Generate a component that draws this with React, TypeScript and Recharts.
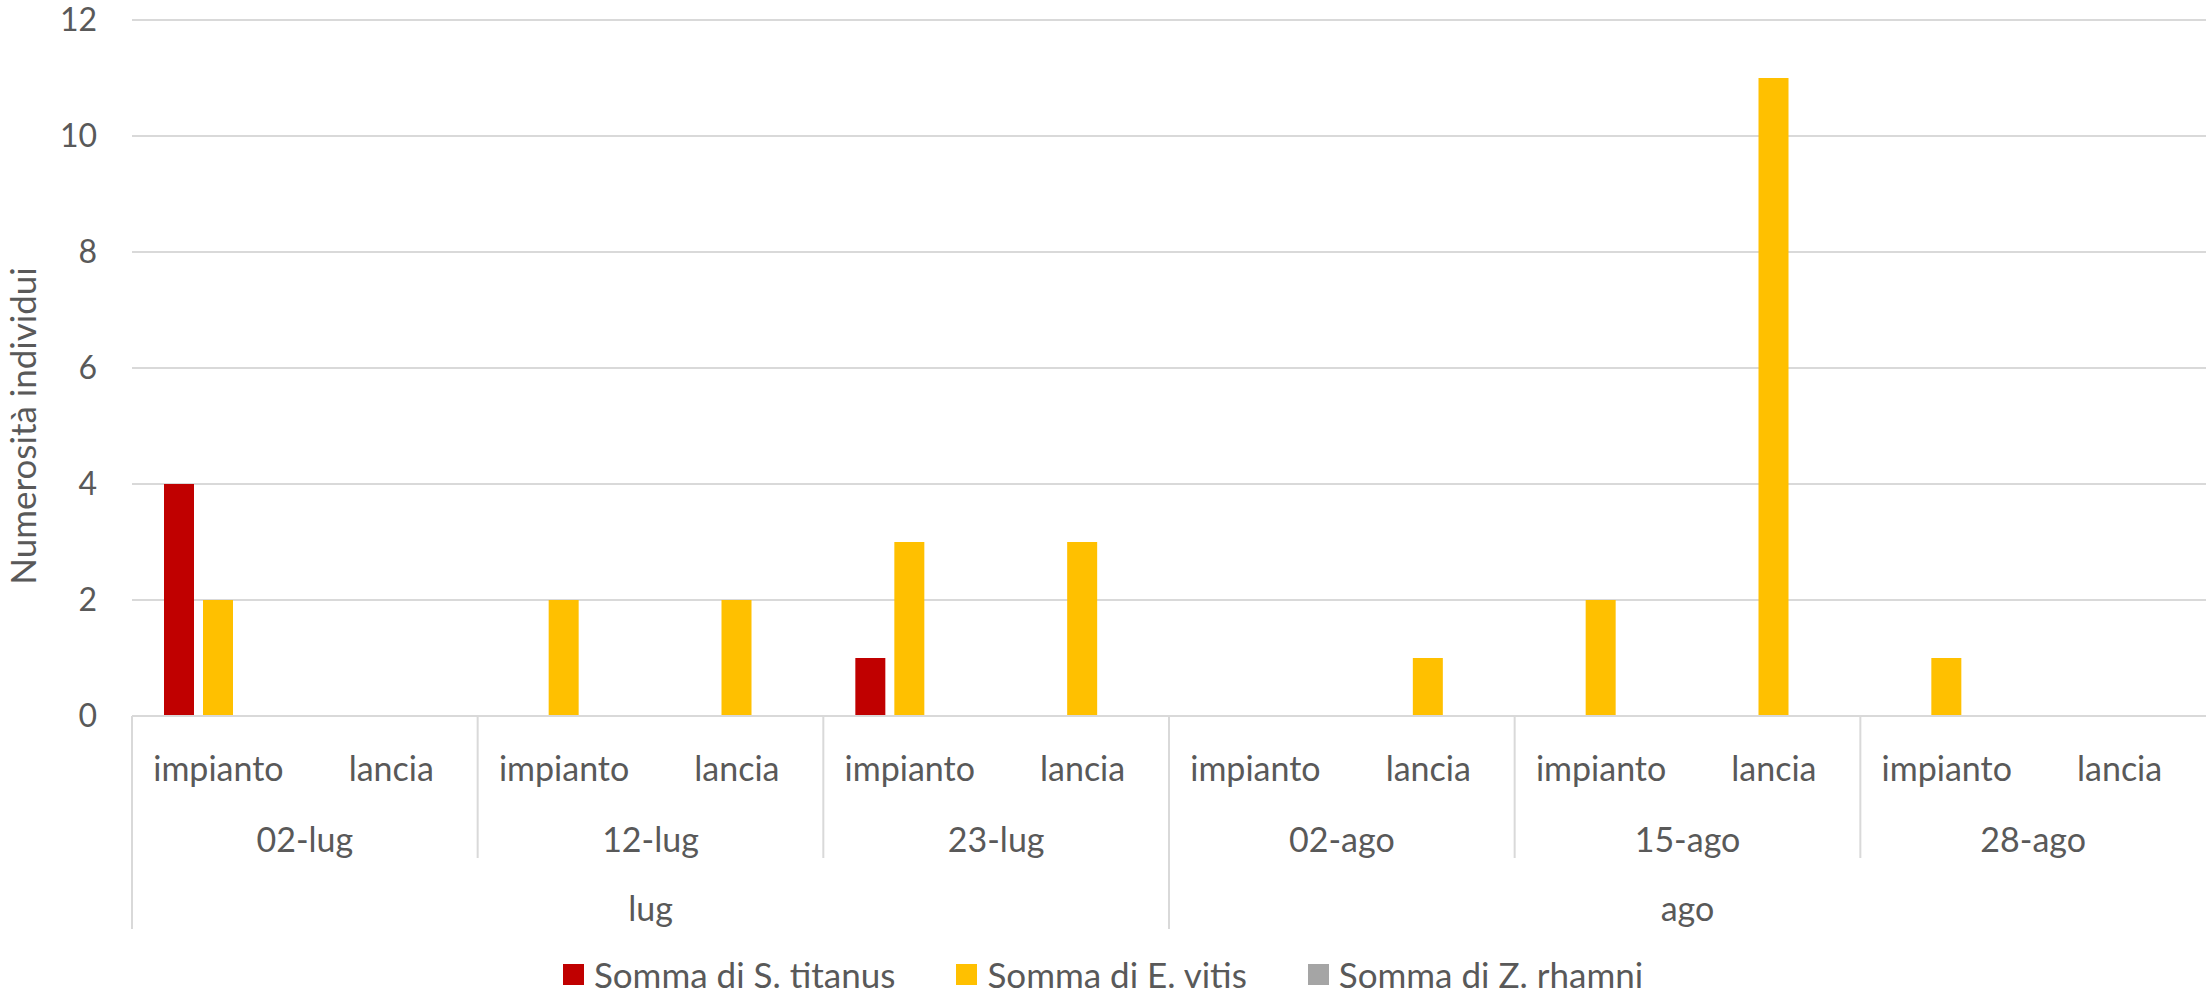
import React from "react";
import { BarChart, Bar, XAxis, YAxis, CartesianGrid, Legend } from "recharts";

const dates = ["02-lug", "12-lug", "23-lug", "02-ago", "15-ago", "28-ago"];
const dateMonths = ["lug", "lug", "lug", "ago", "ago", "ago"];
const tipi = ["impianto", "lancia"];

// one value per (date, tipo), in order
const titanus = [4, 0, 0, 0, 1, 0, 0, 0, 0, 0, 0, 0];
const vitis = [2, 0, 2, 2, 3, 3, 0, 1, 2, 11, 1, 0];
const rhamni = [0, 0, 0, 0, 0, 0, 0, 0, 0, 0, 0, 0];

const yTicks = [0, 2, 4, 6, 8, 10, 12];

const SERIES = [
  { key: "titanus", name: "Somma di S. titanus", color: "#C00000" },
  { key: "vitis", name: "Somma di E. vitis", color: "#FFC000" },
  { key: "rhamni", name: "Somma di Z. rhamni", color: "#A5A5A5" },
];

const rows = dates.flatMap((d, di) =>
  tipi.map((t, ti) => {
    const i = di * tipi.length + ti;
    return {
      tipo: t,
      data: d,
      mese: dateMonths[di],
      titanus: titanus[i],
      vitis: vitis[i],
      rhamni: rhamni[i],
    };
  })
);

const W = 2206;
const H = 994;
const Y_W = 132;
const BAND = (W - Y_W) / rows.length;
const TEXT = "#595959";
const LINE = "#D9D9D9";
const FONT = "Lato, 'Open Sans', sans-serif";

function MultiTick(props: any) {
  const { x, y, payload } = props;
  const i = payload.index;
  const row = rows[i];
  const perDate = tipi.length;
  const els: React.ReactNode[] = [];

  els.push(
    <text key="sub" x={x} y={y + 51} textAnchor="middle" dominantBaseline="central" fill={TEXT} fontSize={34}>
      {row.tipo}
    </text>
  );

  if (i % perDate === 0) {
    const left = x - BAND / 2;
    els.push(
      <text key="date" x={left + (BAND * perDate) / 2} y={y + 122} textAnchor="middle" dominantBaseline="central" fill={TEXT} fontSize={34}>
        {row.data}
      </text>
    );
    const monthStart = i === 0 || rows[i - 1].mese !== row.mese;
    if (monthStart) {
      const count = rows.filter((r) => r.mese === row.mese).length;
      els.push(
        <text key="month" x={left + (BAND * count) / 2} y={y + 191} textAnchor="middle" dominantBaseline="central" fill={TEXT} fontSize={34}>
          {row.mese}
        </text>
      );
    }
    els.push(
      <line key="div" x1={left} x2={left} y1={y} y2={y + (monthStart ? 213 : 142)} stroke={LINE} strokeWidth={2} />
    );
  }
  return <g>{els}</g>;
}

function LegendBox() {
  return (
    <div
      style={{
        height: 60,
        paddingTop: 28,
        boxSizing: "border-box",
        display: "flex",
        justifyContent: "center",
        alignItems: "flex-start",
        gap: 61,
        fontFamily: FONT,
        fontSize: 35,
        color: TEXT,
      }}
    >
      {SERIES.map((s) => (
        <div key={s.key} style={{ display: "flex", alignItems: "center", height: 34 }}>
          <span style={{ width: 21, height: 21, background: s.color, marginRight: 10, display: "inline-block" }} />
          <span style={{ lineHeight: "34px" }}>{s.name}</span>
        </div>
      ))}
    </div>
  );
}

export default function App() {
  return (
    <div style={{ position: "absolute", left: 0, top: 0, background: "#fff", fontFamily: FONT }}>
      <BarChart
        width={W}
        height={H}
        data={rows}
        margin={{ top: 20, right: 0, bottom: 5, left: 0 }}
        barSize={30}
        barGap={9}
      >
        <CartesianGrid vertical={false} stroke={LINE} strokeWidth={2} />
        <XAxis
          dataKey="tipo"
          interval={0}
          height={213}
          tickLine={false}
          tickSize={0}
          tickMargin={0}
          axisLine={{ stroke: LINE, strokeWidth: 2 }}
          tick={<MultiTick />}
        />
        <YAxis
          width={Y_W}
          domain={[0, 12]}
          ticks={yTicks}
          axisLine={false}
          tickLine={false}
          tickSize={0}
          tickMargin={35}
          tick={{ fill: TEXT, fontSize: 32 }}
          label={{
            content: (p: any) => {
              const vb = p.viewBox;
              const cx = vb.x + 22;
              const cy = vb.y + vb.height / 2 + 58;
              return (
                <text
                  x={cx}
                  y={cy}
                  transform={`rotate(-90 ${cx} ${cy})`}
                  textAnchor="middle"
                  dominantBaseline="central"
                  fill={TEXT}
                  fontSize={35}
                >
                  Numerosità individui
                </text>
              );
            },
          }}
        />
        <Legend verticalAlign="bottom" content={<LegendBox />} />
        {SERIES.map((s) => (
          <Bar key={s.key} dataKey={s.key} name={s.name} fill={s.color} isAnimationActive={false} />
        ))}
      </BarChart>
    </div>
  );
}
